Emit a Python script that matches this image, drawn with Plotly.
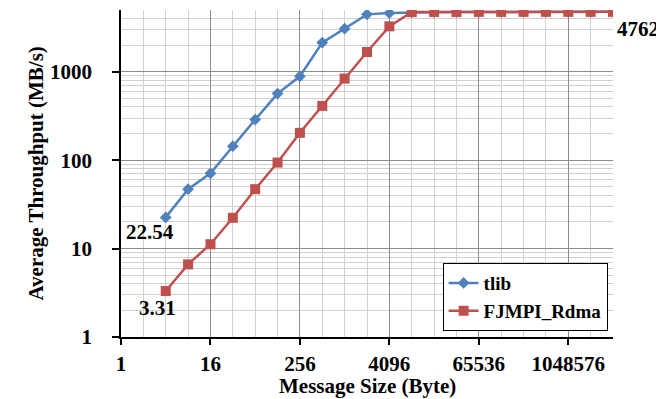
import math
import plotly.graph_objects as go

# Data
sizes = [2**k for k in range(2, 23)]  # 4 B .. 4 MB
tlib = [22.54, 47, 71, 144, 288, 567, 889, 2138, 3076, 4463, 4620,
        4700, 4720, 4740, 4750, 4755, 4760, 4762, 4762, 4762, 4762]
fjmpi = [3.31, 6.63, 11.2, 22.3, 47, 94, 204, 411, 838, 1675, 3267,
         4740, 4750, 4755, 4758, 4760, 4761, 4762, 4762, 4762, 4762]
x_ticks = [1, 16, 256, 4096, 65536, 1048576]
y_ticks = [1, 10, 100, 1000]
x_title = "Message Size (Byte)"
y_title = "Average Throughput (MB/s)"

FONT = "Liberation Serif, serif"
FS = 21
BLUE = "#4F81BD"
RED = "#C0504D"

fig = go.Figure()
fig.add_trace(go.Scatter(x=sizes, y=tlib, name="tlib", mode="lines+markers",
                         line=dict(color=BLUE, width=2.5),
                         marker=dict(symbol="diamond", size=9, color=BLUE)))
fig.add_trace(go.Scatter(x=sizes, y=fjmpi, name="FJMPI_Rdma", mode="lines+markers",
                         line=dict(color=RED, width=2.5),
                         marker=dict(symbol="square", size=10, color=RED)))

x_minor = [2**k for k in range(0, 23)]
y_minor = [m * 10**d for d in range(0, 4) for m in range(1, 10) if m * 10**d <= 5000]

fnt = dict(family=FONT, size=FS, color="black", weight="bold")

fig.update_xaxes(type="log", range=[0, math.log10(2**22)], automargin=False,
                 tickvals=x_ticks, ticktext=[str(v) for v in x_ticks],
                 showgrid=True, gridcolor="#8c8c8c", gridwidth=1,
                 minor=dict(tickvals=x_minor, showgrid=True, gridcolor="#d0d0d0", ticklen=0),
                 showline=True, linecolor="black", linewidth=1.5,
                 ticks="outside", ticklen=6, tickcolor="black", tickwidth=1.5,
                 ticklabelstandoff=1, tickfont=fnt,
                 zeroline=False)
fig.update_yaxes(type="log", range=[0, math.log10(5000)], automargin=False,
                 tickvals=y_ticks, ticktext=[str(v) for v in y_ticks],
                 showgrid=True, gridcolor="#8c8c8c", gridwidth=1,
                 minor=dict(tickvals=y_minor, showgrid=True, gridcolor="#d0d0d0", ticklen=0),
                 showline=True, linecolor="black", linewidth=1.5,
                 ticks="outside", ticklen=7, tickcolor="black", tickwidth=1.5,
                 ticklabelstandoff=16, tickfont=fnt,
                 zeroline=False)

# Axis titles
fig.add_annotation(text=x_title, xref="paper", yref="paper", x=0.5, y=0,
                   yanchor="middle", yshift=-49, borderpad=0, showarrow=False, font=fnt)
fig.add_annotation(text=y_title, xref="paper", yref="paper", x=0, y=0.5,
                   xanchor="center", xshift=-86, textangle=-90, showarrow=False, font=fnt)

# Data labels
labels = [
    (sizes[0], tlib[0], f"{tlib[0]:.2f}", -16, -15),
    (sizes[0], fjmpi[0], f"{fjmpi[0]:.2f}", -8, -17),
    (sizes[-1], fjmpi[-1], f"{fjmpi[-1]:.0f}", 25, -17),
]
for xv, yv, txt, dx, dy in labels:
    fig.add_annotation(x=math.log10(xv), y=math.log10(yv), xref="x", yref="y",
                       text=txt, showarrow=False, xshift=dx, yshift=dy, font=fnt)

# page body has an 8px default margin; compensate so the plot sits where the reference does
fig.update_layout(
    width=656, height=391,
    margin=dict(l=113, r=51, t=2, b=62),
    plot_bgcolor="white", paper_bgcolor="white",
    legend=dict(x=0.989, y=0.018, xanchor="right", yanchor="bottom",
                bgcolor="white", bordercolor="black", borderwidth=1,
                font=dict(family=FONT, size=19, color="black", weight="bold"),
                tracegroupgap=0, itemwidth=30),
    showlegend=True,
)

fig.write_html("out.html")
